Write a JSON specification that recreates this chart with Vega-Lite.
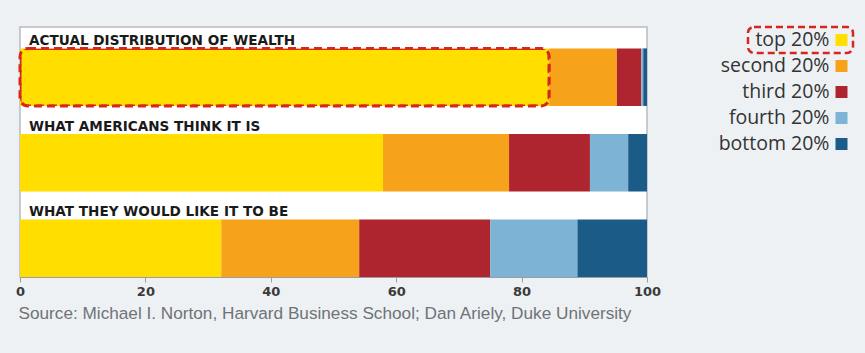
{
  "$schema": "https://vega.github.io/schema/vega-lite/v6.json",
  "autosize": {"type": "pad"},
  "padding": {"left": 14, "top": 25, "right": 20, "bottom": 40},
  "background": "#edf1f4",
  "bounds": "flush",
  "spacing": 101,
  "config": {"view": {"stroke": null}, "font": "Open Sans"},
  "datasets": {
    "wealth": [
      {"group": "ACTUAL DISTRIBUTION OF WEALTH", "quintile": "top 20%", "rank": 1, "share": 84.4},
      {"group": "ACTUAL DISTRIBUTION OF WEALTH", "quintile": "second 20%", "rank": 2, "share": 10.8},
      {"group": "ACTUAL DISTRIBUTION OF WEALTH", "quintile": "third 20%", "rank": 3, "share": 3.9},
      {"group": "ACTUAL DISTRIBUTION OF WEALTH", "quintile": "fourth 20%", "rank": 4, "share": 0.3},
      {"group": "ACTUAL DISTRIBUTION OF WEALTH", "quintile": "bottom 20%", "rank": 5, "share": 0.6},
      {"group": "WHAT AMERICANS THINK IT IS", "quintile": "top 20%", "rank": 1, "share": 57.9},
      {"group": "WHAT AMERICANS THINK IT IS", "quintile": "second 20%", "rank": 2, "share": 20.1},
      {"group": "WHAT AMERICANS THINK IT IS", "quintile": "third 20%", "rank": 3, "share": 12.9},
      {"group": "WHAT AMERICANS THINK IT IS", "quintile": "fourth 20%", "rank": 4, "share": 6.1},
      {"group": "WHAT AMERICANS THINK IT IS", "quintile": "bottom 20%", "rank": 5, "share": 3.0},
      {"group": "WHAT THEY WOULD LIKE IT TO BE", "quintile": "top 20%", "rank": 1, "share": 32.1},
      {"group": "WHAT THEY WOULD LIKE IT TO BE", "quintile": "second 20%", "rank": 2, "share": 22.0},
      {"group": "WHAT THEY WOULD LIKE IT TO BE", "quintile": "third 20%", "rank": 3, "share": 20.9},
      {"group": "WHAT THEY WOULD LIKE IT TO BE", "quintile": "fourth 20%", "rank": 4, "share": 13.9},
      {"group": "WHAT THEY WOULD LIKE IT TO BE", "quintile": "bottom 20%", "rank": 5, "share": 11.1}
    ]
  },
  "resolve": {"scale": {"color": "shared"}},
  "hconcat": [
    {
      "width": 627,
      "height": 250,
      "view": {"fill": "white", "stroke": "#b8bcc0", "strokeWidth": 1.5},
      "data": {"name": "wealth"},
      "encoding": {
        "y": {
          "field": "group", "type": "nominal", "sort": null, "axis": null,
          "scale": {"paddingInner": 0.327, "paddingOuter": 0.125, "align": 1}
        }
      },
      "layer": [
        {
          "mark": {"type": "bar"},
          "encoding": {
            "x": {
              "field": "share", "type": "quantitative", "stack": "zero",
              "scale": {"domain": [0, 100], "nice": false},
              "axis": {
                "values": [0, 20, 40, 60, 80, 100],
                "grid": false,
                "domainColor": "#9a9ea3",
                "tickColor": "#9a9ea3",
                "tickSize": 5,
                "labelFlush": false,
                "labelFont": "DejaVu Sans",
                "labelFontSize": 13,
                "labelFontWeight": "bold",
                "labelColor": "#3a3a3a",
                "labelPadding": 3,
                "title": "Source: Michael I. Norton, Harvard Business School; Dan Ariely, Duke University",
                "titleAnchor": "start",
                "titleAlign": "left",
                "titleFont": "Liberation Sans",
                "titleFontWeight": "normal",
                "titleFontSize": 17.2,
                "titleColor": "#6f7378",
                "titlePadding": 6,
                "titleX": -2
              }
            },
            "color": {
              "field": "quintile", "type": "nominal",
              "scale": {
                "domain": ["top 20%", "second 20%", "third 20%", "fourth 20%", "bottom 20%"],
                "range": ["#ffde00", "#f7a21b", "#ae2530", "#7db3d5", "#1b5b88"]
              },
              "legend": null
            },
            "order": {"field": "rank", "type": "quantitative"}
          }
        },
        {
          "transform": [{"filter": "datum.rank == 1 && datum.group == 'ACTUAL DISTRIBUTION OF WEALTH'"}],
          "mark": {"type": "bar", "fillOpacity": 0, "stroke": "#d7261e", "strokeWidth": 3, "strokeDash": [8, 5], "cornerRadius": 8},
          "encoding": {
            "x": {"field": "share", "type": "quantitative"}
          }
        },
        {
          "transform": [{"filter": "datum.rank == 1"}],
          "mark": {"type": "text", "align": "left", "baseline": "alphabetic", "dx": 9, "dy": -3, "font": "DejaVu Sans", "fontWeight": "bold", "fontSize": 13.6, "color": "#1a1a1a"},
          "encoding": {
            "x": {"datum": 0},
            "y": {"field": "group", "type": "nominal", "sort": null, "bandPosition": 0},
            "text": {"field": "group"}
          }
        }
      ]
    },
    {
      "width": 105,
      "height": 130,
      "data": {"name": "wealth"},
      "transform": [{"filter": "datum.group == 'ACTUAL DISTRIBUTION OF WEALTH'"}],
      "encoding": {
        "y": {
          "field": "quintile", "type": "nominal",
          "sort": ["top 20%", "second 20%", "third 20%", "fourth 20%", "bottom 20%"],
          "axis": null,
          "scale": {"paddingInner": 0, "paddingOuter": 0}
        }
      },
      "layer": [
        {
          "transform": [{"filter": "datum.rank == 1"}],
          "mark": {"type": "rect", "fillOpacity": 0, "stroke": "#d7261e", "strokeWidth": 2.5, "strokeDash": [7, 4], "cornerRadius": 6}
        },
        {
          "mark": {"type": "text", "align": "right", "baseline": "middle", "dx": 29, "fontSize": 19.5, "color": "#333333"},
          "encoding": {"text": {"field": "quintile"}}
        },
        {
          "mark": {"type": "square", "size": 144, "opacity": 1, "xOffset": 41},
          "encoding": {"color": {"field": "quintile", "type": "nominal", "legend": null}}
        }
      ]
    }
  ]
}
